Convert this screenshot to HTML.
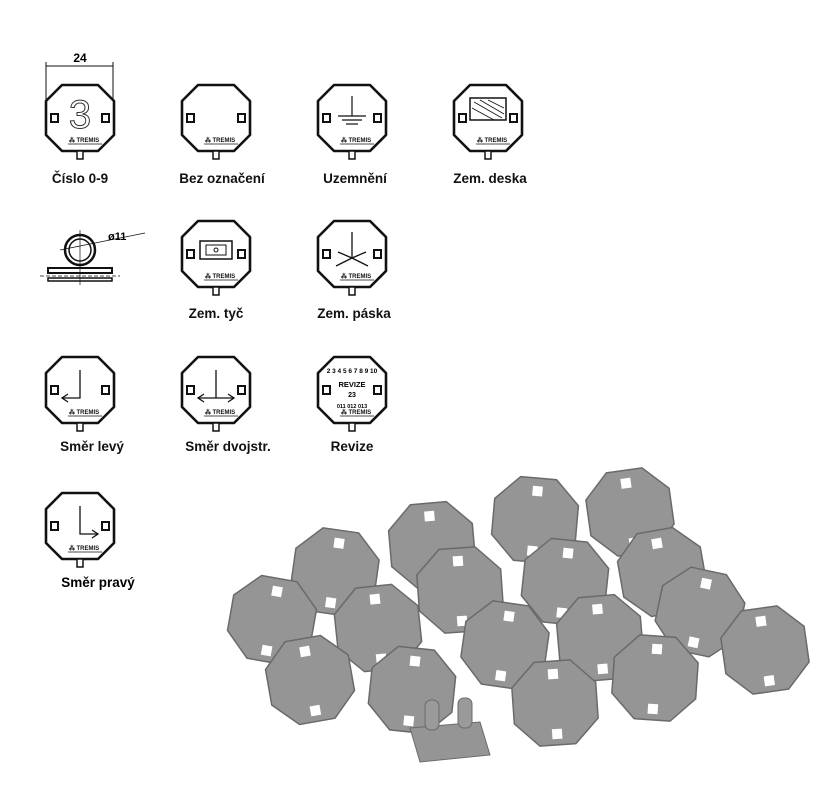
<!DOCTYPE html>
<html><head><meta charset="utf-8"><style>
body{margin:0;background:#fff}
svg text{font-family:"Liberation Sans",sans-serif}
</style></head><body>
<svg width="830" height="796" viewBox="0 0 830 796" xmlns="http://www.w3.org/2000/svg">
<defs>
<g id="oct">
<polygon points="-18,-33 18,-33 34,-17 34,17 18,33 -18,33 -34,17 -34,-17" fill="#fff" stroke="#111" stroke-width="2.6" stroke-linejoin="round"/>
<rect x="-29" y="-4" width="7" height="8" fill="#fff" stroke="#111" stroke-width="2"/>
<rect x="22" y="-4" width="7" height="8" fill="#fff" stroke="#111" stroke-width="2"/>
<rect x="-3" y="33" width="6" height="8" fill="#fff" stroke="#111" stroke-width="1.5"/>
<text x="4" y="24" font-size="6" font-weight="bold" text-anchor="middle" fill="#111">⁂ TREMIS</text>
<line x1="-12" y1="26" x2="22" y2="26" stroke="#111" stroke-width="0.8"/>
</g>
<g id="goct">
<polygon points="-18,-42 18,-42 42,-18 42,18 18,42 -18,42 -42,18 -42,-18" fill="#959595" stroke="#6a6a6a" stroke-width="1.5"/>
<rect x="-5" y="-34" width="10" height="10" fill="#fff"/>
<rect x="-5" y="26" width="10" height="10" fill="#fff"/>
</g>
</defs>
<line x1="46" y1="62" x2="46" y2="105" stroke="#111"/>
<line x1="113" y1="62" x2="113" y2="105" stroke="#111"/>
<line x1="46" y1="66" x2="113" y2="66" stroke="#111"/>
<text x="80" y="62" font-size="12" font-weight="bold" text-anchor="middle">24</text>
<use href="#oct" x="80" y="118"/>
<text x="80" y="128" font-size="40" text-anchor="middle" fill="#fff" stroke="#333" stroke-width="1">3</text>
<use href="#oct" x="216" y="118"/>
<use href="#oct" x="352" y="118"/>
<g stroke="#111" stroke-width="1.2"><line x1="352" y1="96" x2="352" y2="116"/><line x1="338" y1="116" x2="366" y2="116"/><line x1="342" y1="120" x2="362" y2="120"/><line x1="346" y1="124" x2="358" y2="124"/></g>
<use href="#oct" x="488" y="118"/>
<rect x="470" y="98" width="36" height="22" fill="#fff" stroke="#111" stroke-width="1.5"/>
<g stroke="#111" stroke-width="0.8"><line x1="474" y1="102" x2="502" y2="118"/><line x1="480" y1="100" x2="504" y2="114"/><line x1="472" y1="108" x2="494" y2="120"/><line x1="488" y1="100" x2="504" y2="108"/></g>
<g font-size="13.5" font-weight="bold" fill="#111" text-anchor="middle">
<text x="80" y="183">Číslo 0-9</text><text x="222" y="183">Bez označení</text><text x="355" y="183">Uzemnění</text><text x="490" y="183">Zem. deska</text>
</g>
<g stroke="#111" fill="none" stroke-width="1.5">
<circle cx="80" cy="250" r="15" stroke-width="2.5"/><circle cx="80" cy="250" r="11"/>
<line x1="80" y1="230" x2="80" y2="285" stroke-width="0.7"/><line x1="60" y1="250" x2="145" y2="233" stroke-width="0.7"/>
<rect x="48" y="268" width="64" height="5" stroke-width="2"/>
<line x1="40" y1="276" x2="120" y2="276" stroke-width="0.8" stroke-dasharray="4 2"/>
<rect x="48" y="278" width="64" height="3" stroke-width="1.5"/>
</g>
<text x="108" y="240" font-size="11" font-weight="bold">ø11</text>
<use href="#oct" x="216" y="254"/>
<rect x="200" y="241" width="32" height="18" fill="#fff" stroke="#111" stroke-width="1.5"/><rect x="206" y="245" width="20" height="10" fill="none" stroke="#111"/><circle cx="216" cy="250" r="2" fill="none" stroke="#111"/>
<use href="#oct" x="352" y="254"/>
<g stroke="#111" stroke-width="1.3"><line x1="352" y1="232" x2="352" y2="258"/><line x1="336" y1="266" x2="352" y2="258"/><line x1="368" y1="266" x2="352" y2="258"/><line x1="338" y1="252" x2="352" y2="258"/><line x1="366" y1="252" x2="352" y2="258"/></g>
<g font-size="13.5" font-weight="bold" fill="#111" text-anchor="middle"><text x="216" y="318">Zem. tyč</text><text x="354" y="318">Zem. páska</text></g>
<use href="#oct" x="80" y="390"/>
<g stroke="#111" stroke-width="1.3" fill="none"><polyline points="80,370 80,398 62,398"/><polyline points="68,394 62,398 68,402"/></g>
<use href="#oct" x="216" y="390"/>
<g stroke="#111" stroke-width="1.3" fill="none"><polyline points="216,370 216,398"/><line x1="198" y1="398" x2="234" y2="398"/><polyline points="204,394 198,398 204,402"/><polyline points="228,394 234,398 228,402"/></g>
<use href="#oct" x="352" y="390"/>
<text x="352" y="373" font-size="6.5" text-anchor="middle" font-weight="bold">2 3 4 5 6 7 8 9 10</text>
<text x="352" y="387" font-size="7.5" text-anchor="middle" font-weight="bold">REVIZE</text>
<text x="352" y="397" font-size="7" text-anchor="middle" font-weight="bold">23</text>
<text x="352" y="408" font-size="5.5" text-anchor="middle" font-weight="bold">011 012 013</text>
<g font-size="13.5" font-weight="bold" fill="#111" text-anchor="middle"><text x="92" y="451">Směr levý</text><text x="228" y="451">Směr dvojstr.</text><text x="352" y="451">Revize</text></g>
<use href="#oct" x="80" y="526"/>
<g stroke="#111" stroke-width="1.3" fill="none"><polyline points="80,506 80,534 98,534"/><polyline points="92,530 98,534 92,538"/></g>
<text x="98" y="587" font-size="13.5" font-weight="bold" text-anchor="middle">Směr pravý</text>
<g>
<use href="#goct" transform="translate(630,512) rotate(-8)"/>
<use href="#goct" transform="translate(535,520) rotate(5)"/>
<use href="#goct" transform="translate(432,545) rotate(-5)"/>
<use href="#goct" transform="translate(335,572) rotate(8)"/>
<use href="#goct" transform="translate(662,572) rotate(-10)"/>
<use href="#goct" transform="translate(565,582) rotate(6)"/>
<use href="#goct" transform="translate(460,590) rotate(-4)"/>
<use href="#goct" transform="translate(272,620) rotate(10)"/>
<use href="#goct" transform="translate(378,628) rotate(-6)"/>
<use href="#goct" transform="translate(700,612) rotate(12)"/>
<use href="#goct" transform="translate(600,638) rotate(-5)"/>
<use href="#goct" transform="translate(505,645) rotate(8)"/>
<use href="#goct" transform="translate(765,650) rotate(-8)"/>
<use href="#goct" transform="translate(655,678) rotate(4)"/>
<use href="#goct" transform="translate(310,680) rotate(-10)"/>
<use href="#goct" transform="translate(412,690) rotate(6)"/>
<use href="#goct" transform="translate(555,703) rotate(-4)"/>
<path d="M410,728 L480,722 L490,755 L420,762 Z" fill="#959595" stroke="#6a6a6a"/>
<rect x="425" y="700" width="14" height="30" rx="6" fill="#9a9a9a" stroke="#6a6a6a"/>
<rect x="458" y="698" width="14" height="30" rx="6" fill="#9a9a9a" stroke="#6a6a6a"/>
</g>
</svg>
</body></html>
